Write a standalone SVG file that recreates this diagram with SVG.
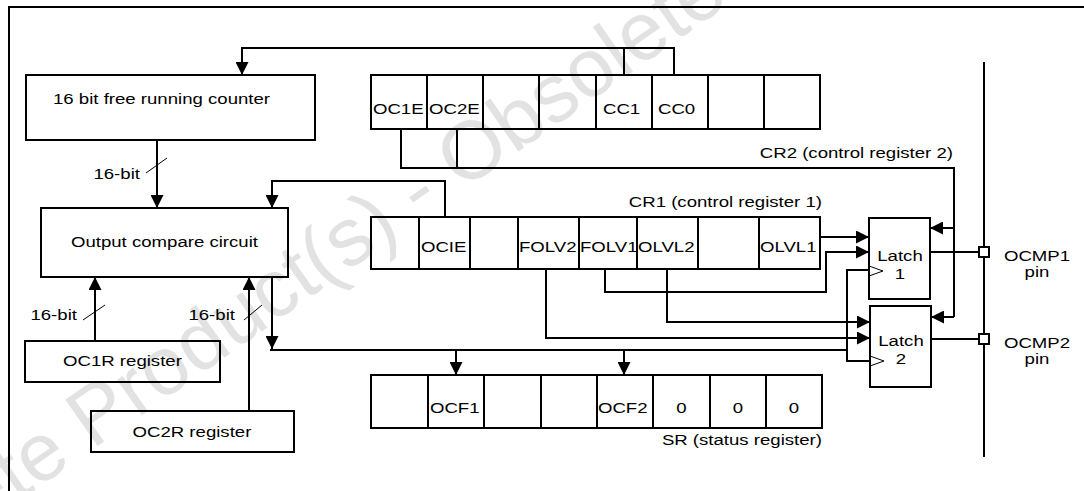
<svg xmlns="http://www.w3.org/2000/svg" width="1084" height="491" viewBox="0 0 1084 491">
<style>
text { font-family: "Liberation Sans", Arial, sans-serif; font-size: 15.5px; fill: #000; }
.l { transform-box: fill-box; transform-origin: 0% 50%; transform: scaleX(1.2); }
.m { transform-box: fill-box; transform-origin: 50% 50%; transform: scaleX(1.2); text-anchor: middle; }
.r { transform-box: fill-box; transform-origin: 100% 50%; transform: scaleX(1.2); text-anchor: end; }
.box { fill: none; stroke: #000; stroke-width: 2; }
.ln { fill: none; stroke: #000; stroke-width: 2; }
.thin { fill: none; stroke: #000; stroke-width: 1; }
.wm { font-size: 82px; fill: #e2e2e2; }
</style>
<defs>
<marker id="a" markerUnits="userSpaceOnUse" markerWidth="13" markerHeight="13" refX="13" refY="6.5" orient="auto">
<path d="M0,0 L13,6.5 L0,13 z" fill="#000"/>
</marker>
</defs>
<g id="watermark">
<text class="wm" transform="translate(85,455) rotate(-35)" x="-342" y="0">Obsolete Product(s) - Obsolete Product(s)</text>
</g>
<rect class="box" x="9" y="7" width="1100" height="500"/>
<g id="counter">
<rect class="box" x="26" y="75" width="289" height="65"/>
<text class="l" x="53" y="104">16 bit free running counter</text>
</g>
<g id="occ">
<rect class="box" x="41" y="208" width="247" height="69"/>
<text class="m" x="164.5" y="247">Output compare circuit</text>
</g>
<g id="oc1r">
<rect class="box" x="25" y="341" width="195" height="41"/>
<text class="m" x="122.5" y="366">OC1R register</text>
</g>
<g id="oc2r">
<rect class="box" x="91" y="411" width="203" height="41"/>
<text class="m" x="192" y="437">OC2R register</text>
</g>
<g id="cr2">
<rect class="box" x="371" y="75" width="449" height="54"/>
<path class="ln" d="M427,75V129M483,75V129M539,75V129M596,75V129M652,75V129M708,75V129M764,75V129"/>
<text class="l" x="373" y="114">OC1E</text>
<text class="l" x="429" y="114">OC2E</text>
<text class="l" x="603" y="114">CC1</text>
<text class="l" x="658" y="114">CC0</text>
<text class="r" x="953" y="158">CR2 (control register 2)</text>
</g>
<g id="cr1">
<rect class="box" x="371" y="217" width="449" height="52"/>
<path class="ln" d="M419,217V269M470,217V269M518,217V269M579,217V269M637,217V269M698,217V269M759,217V269"/>
<text class="l" x="421" y="252">OCIE</text>
<text class="l" x="519" y="252">FOLV2</text>
<text class="l" x="580" y="252">FOLV1</text>
<text class="l" x="638" y="252">OLVL2</text>
<text class="l" x="760" y="252">OLVL1</text>
<text class="r" x="822" y="207">CR1 (control register 1)</text>
</g>
<g id="sr">
<rect class="box" x="371" y="375" width="451" height="53"/>
<path class="ln" d="M428,375V428M484,375V428M541,375V428M597,375V428M653,375V428M710,375V428M766,375V428"/>
<text class="l" x="430" y="413">OCF1</text>
<text class="l" x="598" y="413">OCF2</text>
<text class="m" x="681.5" y="413">0</text>
<text class="m" x="738" y="413">0</text>
<text class="m" x="794" y="413">0</text>
<text class="r" x="822" y="445">SR (status register)</text>
</g>
<g id="latch1">
<rect class="box" x="869" y="218" width="61" height="81"/>
<text class="m" x="900" y="261">Latch</text>
<text class="m" x="900" y="279">1</text>
<path class="thin" d="M869,266L883,271L869,276"/>
</g>
<g id="latch2">
<rect class="box" x="870" y="306" width="61" height="81"/>
<text class="m" x="901" y="346">Latch</text>
<text class="m" x="901" y="364">2</text>
<path class="thin" d="M870,356L884,361L870,366"/>
</g>
<g id="pins">
<path class="ln" d="M984,62V457"/>
<rect x="979" y="247" width="10" height="10" fill="#fff" stroke="#000" stroke-width="2"/>
<rect x="979" y="334" width="10" height="10" fill="#fff" stroke="#000" stroke-width="2"/>
<text class="m" x="1037" y="261">OCMP1</text>
<text class="m" x="1037" y="277">pin</text>
<text class="m" x="1037" y="348">OCMP2</text>
<text class="m" x="1037" y="364">pin</text>
</g>
<g id="connectors">
<path class="ln" d="M674,75V48H242V75" marker-end="url(#a)"/>
<path class="ln" d="M624,75V48"/>
<path class="ln" d="M157,140V208" marker-end="url(#a)"/>
<path class="thin" d="M146,173L167,158"/>
<text class="r" x="140" y="179">16-bit</text>
<path class="ln" d="M445,217V181H272V208" marker-end="url(#a)"/>
<path class="ln" d="M95,341V277" marker-end="url(#a)"/>
<path class="thin" d="M83,320L105,305"/>
<text class="r" x="77" y="320">16-bit</text>
<path class="ln" d="M249,411V277" marker-end="url(#a)"/>
<path class="thin" d="M244,320L262,305"/>
<text class="r" x="235" y="320">16-bit</text>
<path class="ln" d="M272,277V349" marker-end="url(#a)"/>
<path class="ln" d="M270,350H847"/>
<path class="ln" d="M869,270H847V361H870"/>
<path class="ln" d="M456,350V375" marker-end="url(#a)"/>
<path class="ln" d="M624,350V375" marker-end="url(#a)"/>
<path class="ln" d="M401,129V168H954V317"/>
<path class="ln" d="M457,129V168"/>
<path class="ln" d="M954,228H930" marker-end="url(#a)"/>
<path class="ln" d="M954,317H931" marker-end="url(#a)"/>
<path class="ln" d="M820,237H869" marker-end="url(#a)"/>
<path class="ln" d="M605,269V292H826V252H869" marker-end="url(#a)"/>
<path class="ln" d="M667,269V322H870" marker-end="url(#a)"/>
<path class="ln" d="M546,269V338H870" marker-end="url(#a)"/>
<path class="ln" d="M930,252H979"/>
<path class="ln" d="M931,339H979"/>
</g>
</svg>
